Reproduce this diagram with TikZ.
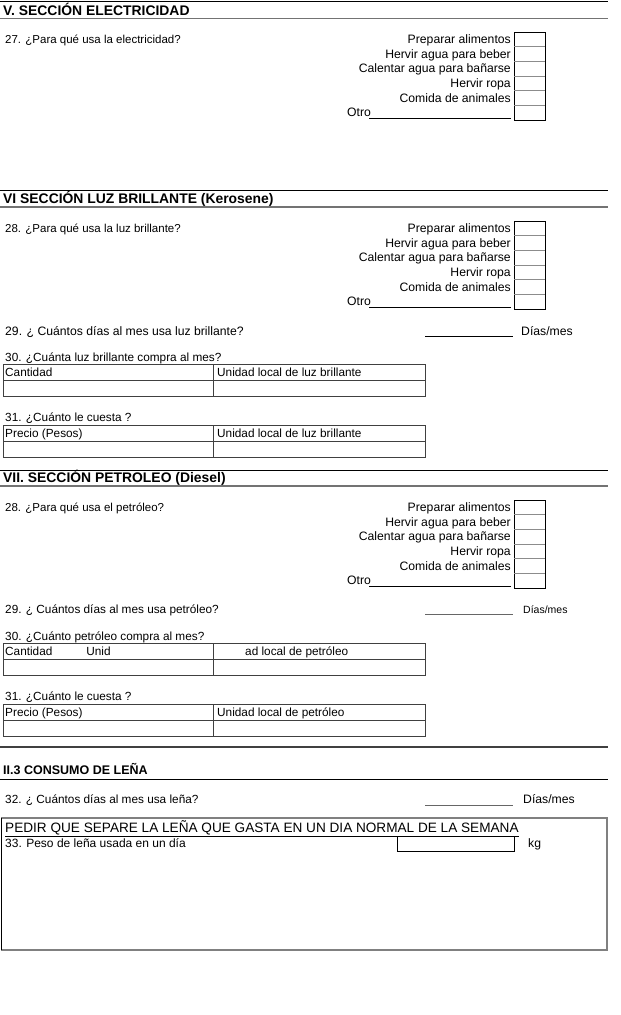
\documentclass[tikz,border=0pt]{standalone}
\usepackage{fontspec}
\setmainfont{Liberation Sans}
\newcommand\fsz[1]{\fontsize{#1}{#1}\selectfont}
\tikzset{
  q/.style={anchor=base west, inner sep=0pt, font=\fsz{11.8}},
  qs/.style={anchor=base west, inner sep=0pt, font=\fsz{11.5}},
  lab/.style={anchor=base east, inner sep=0pt, font=\fsz{12.2}},
  unit/.style={anchor=base west, inner sep=0pt, font=\fsz{12.2}},
  head/.style={anchor=base west, inner sep=0pt, font=\fsz{13.9}\bfseries},
  secline/.style={line width=1pt, black},
  subline/.style={line width=1.6pt, black!55},
  cbox/.style={draw=black, line width=0.8pt},
  sepl/.style={draw=black!45, line width=0.8pt},
  tbl/.style={draw=black!75, line width=0.9pt},
  fill line/.style={line width=0.7pt, black},
}
\newcommand\optblock[2]{%
  \draw[cbox] (514,#2) rectangle (545,#2+88.2);
  \foreach \i in {1,...,5} \draw[sepl] (514,#2+14.7*\i) -- (545,#2+14.7*\i);
  \node[lab] (#1a) at (511,#2+11.3) {Preparar alimentos};
  \node[lab] (#1b) at (511,#2+26.0) {Hervir agua para beber};
  \node[lab] (#1c) at (511,#2+40.7) {Calentar agua para bañarse};
  \node[lab] (#1d) at (511,#2+55.4) {Hervir ropa};
  \node[lab] (#1e) at (511,#2+70.1) {Comida de animales};
  \node[anchor=base west, inner sep=0pt, font=\fsz{12.2}] (#1f) at (347,#2+84.8) {Otro};
  \draw[fill line] (369,#2+86.6) -- (511,#2+86.6);
}
\newcommand\qtable[4]{%
  \draw[tbl] (3,#2) rectangle (425,#2+32);
  \draw[tbl] (3,#2+16.5) -- (425,#2+16.5);
  \draw[tbl] (213,#2) -- (213,#2+32);
  \node[q] (#1l) at (5,#2+12.8) {#3};
  \node[q] (#1r) at (217,#2+12.8) {#4};
}
\begin{document}
\begin{tikzpicture}[x=1pt,y=-1pt]
\useasboundingbox (0,0) rectangle (621,1015);
% ---------- V ----------
\draw[secline] (0,1.5) -- (608,1.5);
\node[head] (hV) at (3,15) {V. SECCIÓN ELECTRICIDAD};
\draw[subline] (0,18.5) -- (608,18.5);
\node[qs] (q27) at (5,43.3) {27. ¿Para qué usa la electricidad?};
\optblock{e}{32}
% ---------- VI ----------
\draw[secline] (0,190) -- (608,190);
\node[head] (hVI) at (3,203.5) {VI SECCIÓN LUZ BRILLANTE (Kerosene)};
\draw[subline] (0,207) -- (608,207);
\node[qs] (q28k) at (5,232.3) {28. ¿Para qué usa la luz brillante?};
\optblock{k}{221}
\node[q, font=\fsz{12.2}] (q29k) at (5,335) {29. ¿ Cuántos días al mes usa luz brillante?};
\draw[fill line] (425,336) -- (513,336);
\node[unit] (dk) at (521,335) {Días/mes};
\node[q] (q30k) at (5,361) {30. ¿Cuánta luz brillante compra al mes?};
\qtable{tk}{364}{Cantidad}{Unidad local de luz brillante}
\node[q] (q31k) at (5,421) {31. ¿Cuánto le cuesta ?};
\qtable{tkk}{425}{Precio (Pesos)}{Unidad local de luz brillante}
% ---------- VII ----------
\draw[secline] (0,470) -- (608,470);
\node[head] (hVII) at (3,482) {VII. SECCIÓN PETROLEO (Diesel)};
\draw[subline] (0,486) -- (608,486);
\node[qs] (q28p) at (5,511) {28. ¿Para qué usa el petróleo?};
\optblock{p}{500}
\node[q] (q29p) at (5,613) {29. ¿ Cuántos días al mes usa petróleo?};
\draw[fill line, black!60] (425,614) -- (513,614);
\node[unit, font=\fsz{10.5}] (dp) at (523,613) {Días/mes};
\node[q] (q30p) at (5,640) {30. ¿Cuánto petróleo compra al mes?};
\qtable{tp}{643}{Cantidad\hspace{34pt}Unid}{\hspace{28pt}ad local de petróleo}
\node[q] (q31p) at (5,700) {31. ¿Cuánto le cuesta ?};
\qtable{tpp}{704}{Precio (Pesos)}{Unidad local de petróleo}
% ---------- II.3 ----------
\draw[line width=1.2pt, black!75] (0,747) -- (608,747);
\node[head, font=\fsz{12.5}\bfseries] (hL) at (3,774) {II.3 CONSUMO DE LEÑA};
\draw[line width=1pt, black] (0,779) -- (608,779);
\node[q] (q32) at (5,803) {32. ¿ Cuántos días al mes usa leña?};
\draw[fill line, black!60] (425,805) -- (513,805);
\node[unit] (dl) at (523,803) {Días/mes};
\draw[line width=1.6pt, black!50] (1.5,818) rectangle (607,950);
\draw[line width=0.8pt, black] (1.5,818) -- (1.5,950);
\node[q, font=\fsz{13.6}] (pedir) at (5,832) {\underline{PEDIR QUE SEPARE LA LEÑA QUE GASTA EN UN DIA NORMAL DE LA SEMANA}};
\node[q, font=\fsz{12}] (q33) at (5,847) {33. Peso de leña usada en un día};
\draw[line width=0.8pt, black] (397,836) rectangle (514,851);
\node[unit] (kg) at (528,847) {kg};
\end{tikzpicture}
\end{document}
